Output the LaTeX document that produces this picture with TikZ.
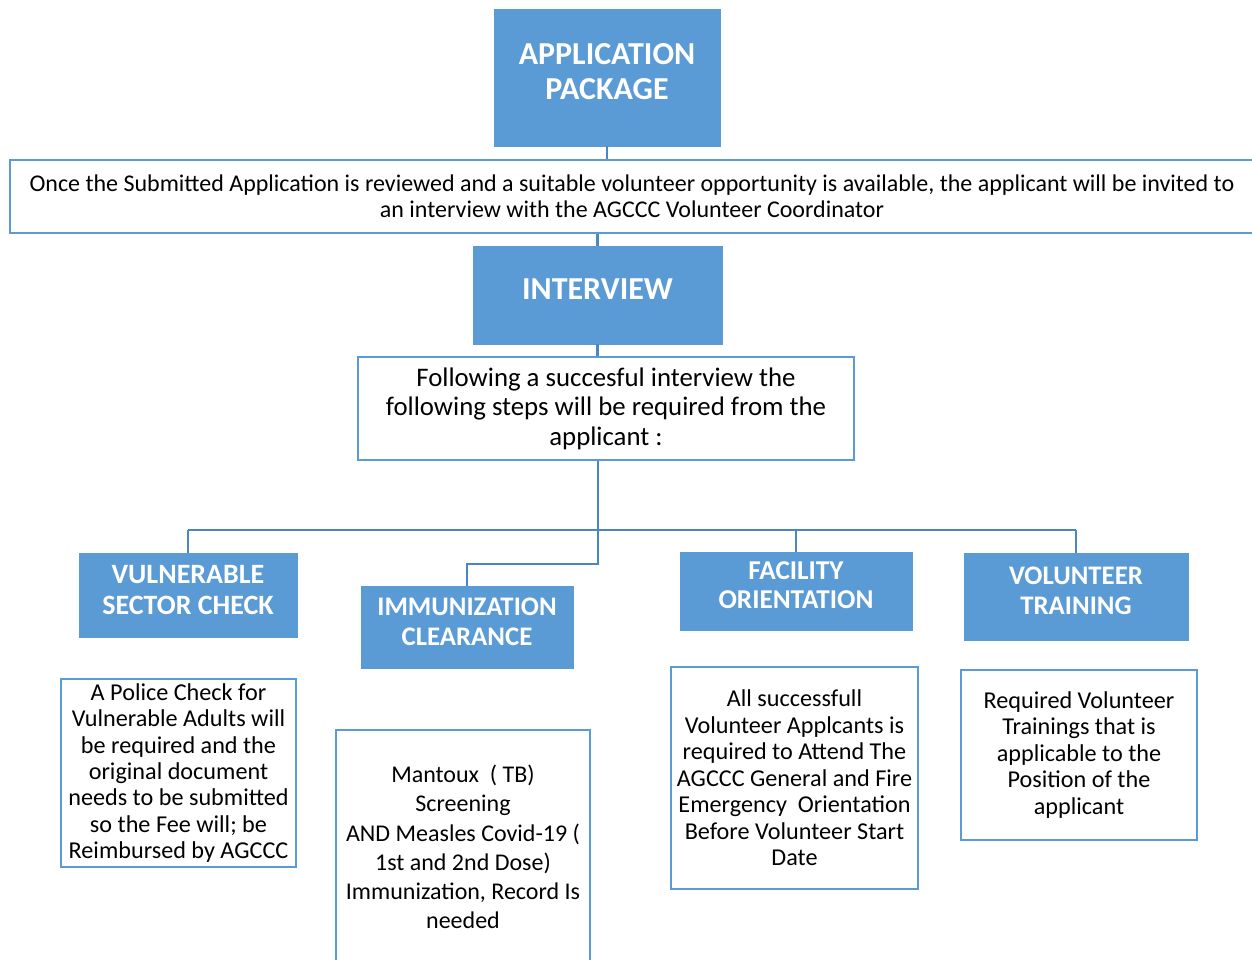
\documentclass[tikz,border=0pt]{standalone}
\usepackage{fontspec}
\setmainfont{Carlito}
\usetikzlibrary{positioning}
\definecolor{accblue}{HTML}{5B9BD5}
\definecolor{linkblue}{HTML}{4A86C4}
\tikzset{
    head/.style={rectangle, draw=accblue, fill=accblue, text=white, align=center, inner sep=0pt, text depth=5.5pt},
    note/.style={rectangle, draw=accblue, line width=1.2pt, fill=white, align=center, inner sep=0pt},
    link/.style={draw=linkblue, line width=1.4pt}
}

\begin{document}
\begin{tikzpicture}[x=0.5pt, y=-0.5pt]
        \useasboundingbox (0,0) rectangle (1252,959);
        % top of the chart
        \node[head, text depth=6pt, minimum width=113pt, minimum height=68.5pt, font=\fontsize{16}{17.5}\selectfont\bfseries] (app) at (607,77.5) {APPLICATION\\PACKAGE};
        \node[note, minimum width=622pt, minimum height=36.5pt, font=\fontsize{12}{12.75}\selectfont] (invite) at (632,196.5) {Once the Submitted Application is reviewed and a suitable volunteer opportunity is available, the applicant will be invited to\\an interview with the AGCCC Volunteer Coordinator};
        \node[head, text depth=6pt, minimum width=124.5pt, minimum height=49pt, font=\fontsize{16}{17.5}\selectfont\bfseries] (interview) at (597.5,295) {INTERVIEW};
        \node[note, minimum width=248pt, minimum height=51.5pt, font=\fontsize{13.4}{14.75}\selectfont] (follow) at (606,408.5) {Following a succesful interview the\\following steps will be required from the\\applicant :};

        % the four steps
        \node[head, minimum width=109pt, minimum height=42pt, font=\fontsize{14}{15.5}\selectfont\bfseries] (vuln) at (188,595) {VULNERABLE\\SECTOR CHECK};
        \node[head, text depth=5pt, minimum width=106pt, minimum height=41pt, font=\fontsize{13.4}{15}\selectfont\bfseries] (immun) at (467,627) {IMMUNIZATION\\CLEARANCE};
        \node[head, minimum width=116pt, minimum height=39pt, font=\fontsize{13.6}{14.5}\selectfont\bfseries] (fac) at (796,591) {FACILITY\\ORIENTATION};
        \node[head, minimum width=112pt, minimum height=43.5pt, font=\fontsize{13.4}{15}\selectfont\bfseries] (volun) at (1076,596.5) {VOLUNTEER\\TRAINING};

        % details under each step
        \node[note, minimum width=117.5pt, minimum height=94pt, font=\fontsize{12.1}{13.2}\selectfont] (vulnnote) at (178.5,773) {A Police Check for\\Vulnerable Adults will\\be required and the\\original document\\needs to be submitted\\so the Fee will; be\\Reimbursed by AGCCC};
        \node[note, minimum width=127pt, minimum height=117pt, font=\fontsize{12}{14.6}\selectfont] (immunnote) at (463,847) {Mantoux\ \ ( TB)\\Screening\\AND Measles Covid-19 (\\1st and 2nd Dose)\\Immunization, Record Is\\needed};
        \node[note, minimum width=123.5pt, minimum height=111pt, font=\fontsize{12.1}{13.25}\selectfont] (facnote) at (794.5,778) {All successfull\\Volunteer Applcants is\\required to Attend The\\AGCCC General and Fire\\Emergency\ \ Orientation\\Before Volunteer Start\\Date};
        \node[note, minimum width=118pt, minimum height=85pt, font=\fontsize{12.1}{13.25}\selectfont] (volunnote) at (1079,755) {Required Volunteer\\Trainings that is\\applicable to the\\Position of the\\applicant};

        % connectors
        \coordinate (hub) at (598,530);
        \coordinate (bend) at (598,564);
        \draw[link] (app.south) -- (app.south |- invite.north);
        \draw[link] (interview.north |- invite.south) -- (interview.north);
        \draw[link] (interview.south) -- (interview.south |- follow.north);
        \draw[link] (hub |- follow.south) -- (hub);
        \draw[link] (vuln.north |- hub) -- (volun.north |- hub);
        \draw[link] (vuln.north |- hub) -- (vuln.north);
        \draw[link] (fac.north |- hub) -- (fac.north);
        \draw[link] (volun.north |- hub) -- (volun.north);
        \draw[link] (hub) -- (bend) -| (immun.north);
    \end{tikzpicture}
\end{document}
